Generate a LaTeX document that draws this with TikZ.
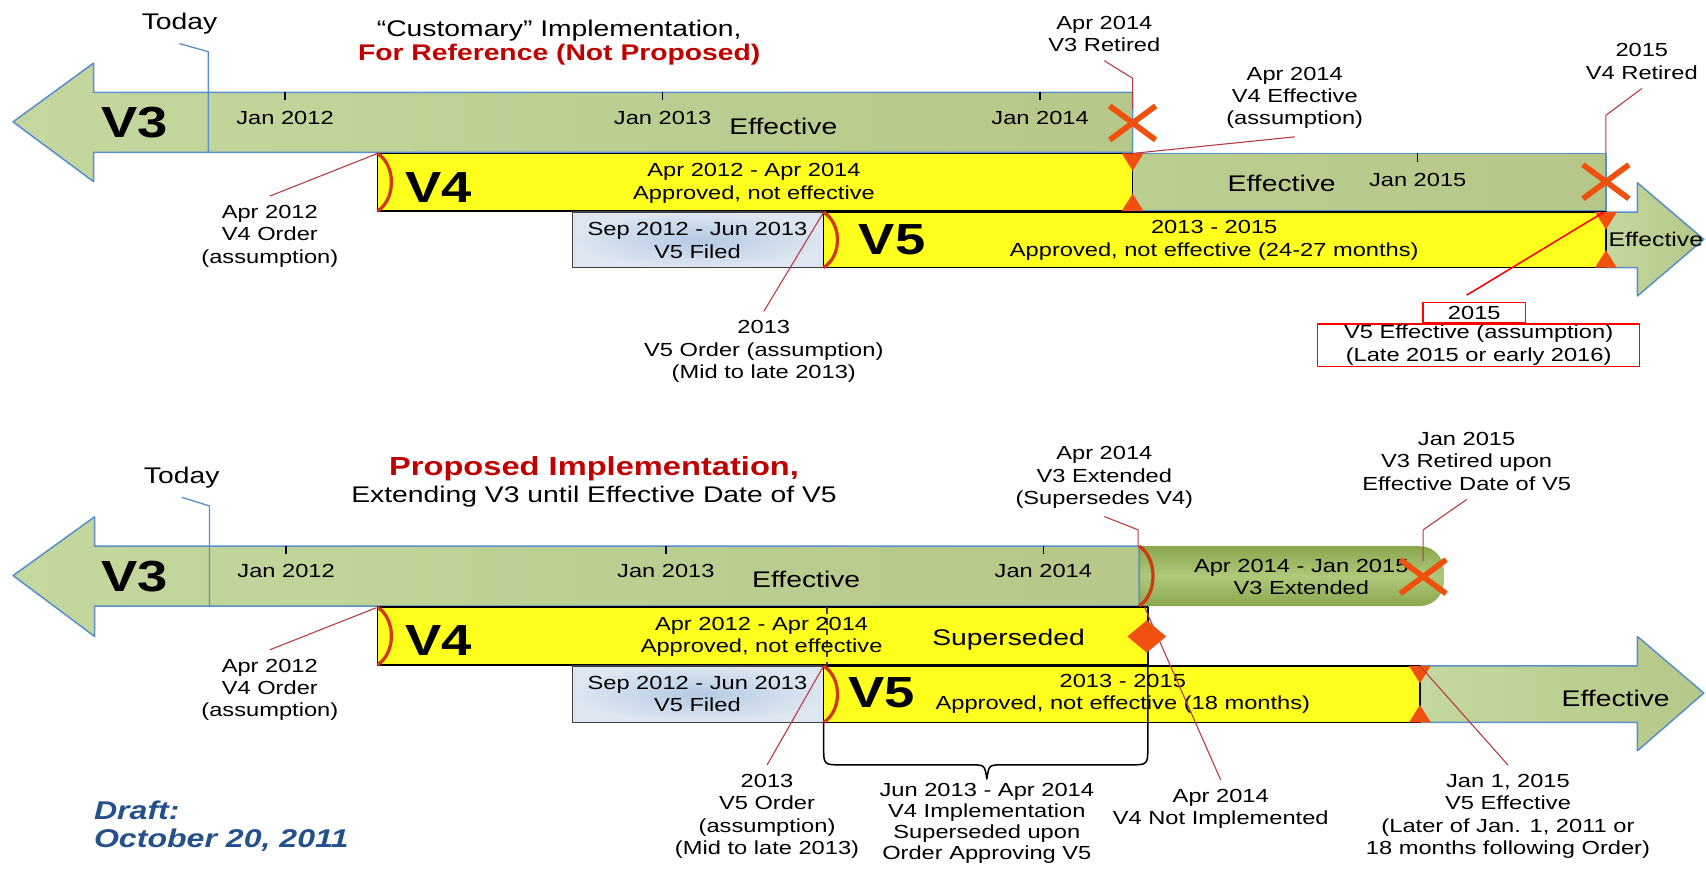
\documentclass[tikz,border=0pt]{standalone}
\usepackage{fontspec}
\setmainfont{Liberation Sans}[FakeStretch=1.25]
\usetikzlibrary{shapes.geometric,shapes.misc}
\definecolor{lgreen}{HTML}{C4D79E}
\definecolor{dgreen}{HTML}{B5C889}
\definecolor{xgreen}{HTML}{9BBB59}
\definecolor{xgreendk}{HTML}{8AA74E}
\definecolor{bordblue}{HTML}{5B8FC9}
\definecolor{baryel}{HTML}{FFFF1E}
\definecolor{filelt}{HTML}{DDE6F1}
\definecolor{filedk}{HTML}{B6CAE3}
\definecolor{mkred}{HTML}{F0500E}
\definecolor{arcred}{HTML}{D2380E}
\definecolor{leadred}{HTML}{B83A44}
\definecolor{ttlred}{HTML}{C00000}
\definecolor{draftblue}{HTML}{24508C}
\newcommand{\fsm}{\fontsize{8.7}{10.25}\selectfont}
\newcommand{\fmd}{\fontsize{10.4}{11}\selectfont}
\newcommand{\fvr}{\fontsize{20}{22}\selectfont\bfseries}
\begin{document}
\begin{tikzpicture}[x=0.5pt,y=-0.5pt,line join=round,font=\fsm,
    shaft/.style={draw=bordblue,line width=0.7pt,left color=lgreen,right color=dgreen},
    effzone/.style={draw=bordblue,line width=0.7pt,left color=dgreen!60!lgreen,right color=dgreen},
    extzone/.style={top color=xgreendk,bottom color=xgreendk,middle color=xgreen!80!white,rounded corners=11pt},
    ybar/.style={draw=black,line width=0.7pt,fill=baryel},
    filed/.style={draw=black!75,line width=0.7pt,inner color=filedk,outer color=filelt},
    ordarc/.style={arcred,line width=1.5pt},
    lead/.style={leadred,line width=0.5pt},
    todayln/.style={bordblue,line width=0.6pt},
    lbl/.style={align=center,inner sep=1pt,yshift=-1pt},
    lbl4/.style={lbl,yshift=-0.6pt},
    bartxt/.style={align=center,inner sep=0pt,yshift=-1pt},
    vname/.style={font=\fvr,inner sep=0pt},
    big/.style={font=\fmd,inner sep=0pt,yshift=-0.6pt},
    xmk/.style={cross out,draw=mkred,line width=2.6pt,minimum width=18.5pt,minimum height=13pt,inner sep=0pt},
    effbox/.style={draw=red,line width=0.7pt,align=center,inner sep=0pt}]
\useasboundingbox (0,0) rectangle (1568,798);
\def\triDn(#1,#2){\fill[mkred] (#1-10,#2) -- (#1+10,#2) -- (#1,#2+16) -- cycle;}
\def\triUp(#1,#2){\fill[mkred] (#1-10,#2) -- (#1+10,#2) -- (#1,#2-16) -- cycle;}

\path[shaft] (1041,85) -- (86,85) -- (86,58) -- (12,112) -- (86,167) -- (86,140) -- (1041,140) -- cycle;
\path[effzone] (1041,141) rectangle (1476,194);
\path[shaft] (1476,195) -- (1505,195) -- (1505,168) -- (1566,220) -- (1505,272) -- (1505,246) -- (1476,246) -- cycle;
\path[ybar] (347,141) rectangle (1041,194);
\path[filed] (526,195) rectangle (757,246);
\path[ybar] (757,195) rectangle (1476,246);
\draw[ordarc] (347,141) .. controls (364,152) and (364,183) .. (347,194);
\draw[ordarc] (757,195) .. controls (774,206) and (774,235) .. (757,246);
\foreach \tx/\tl in {262/Jan 2012,609/Jan 2013,956/Jan 2014}{
  \draw[line width=0.6pt] (\tx,85) -- (\tx,92);
  \node[bartxt] (ja\tx) at (\tx,106) {\tl};}
\draw[line width=0.6pt] (1303,141) -- (1303,149);
\node[bartxt] (ja1303) at (1303,163) {Jan 2015};
\triDn(1041,141) \triUp(1041,194) \triDn(1476,195) \triUp(1476,246)
\coordinate (now1) at (191.5,140);
\coordinate (o4a) at (347,141);
\coordinate (o5a) at (757,195);
\coordinate (e4a) at (1041,141);
\coordinate (r4a) at (1476,141);
\coordinate (e5a) at (1474,195);

\node[vname] (v3a) at (124,113) {V3};
\node[big] (eff3a) at (720,115) {Effective};
\node[vname] (v4a) at (403,172) {V4};
\node[bartxt] (v4ta) at (693,166.5) {Apr 2012 - Apr 2014\\Approved, not effective};
\node[big] (eff4a) at (1178,167) {Effective};
\node[bartxt] (fila) at (641,219) {Sep 2012 - Jun 2013\\V5 Filed};
\node[vname] (v5a) at (820,220) {V5};
\node[bartxt] (v5ta) at (1116,219) {2013 - 2015\\Approved, not effective (24-27 months)};
\node[big,font=\fontsize{9.1}{10}\selectfont,anchor=west] (eff5a) at (1478,219) {Effective};

\node[big] (t1a) at (514,27) {“Customary” Implementation,};
\node[big,font=\fmd\bfseries,text=ttlred] (t1b) at (514,49) {For Reference (Not Proposed)};
\node[lbl,font=\fmd] (today1) at (165,20) {Today};
\node[lbl] (ret3) at (1015,29) {Apr 2014\\V3 Retired};
\node[lbl] (eff4) at (1190,88) {Apr 2014\\V4 Effective\\(assumption)};
\node[lbl] (ret4) at (1509,54.5) {2015\\V4 Retired};
\node[lbl] (ord4) at (248,215) {Apr 2012\\V4 Order\\(assumption)};
\node[lbl] (ord5) at (702,321) {2013\\V5 Order (assumption)\\(Mid to late 2013)};
\node[effbox,minimum width=47pt,minimum height=9.5pt] (e5y) at (1355,287.5) {2015};
\node[effbox,minimum width=148pt,minimum height=19.5pt,anchor=north] (e5t) at (1359,297) {V5 Effective (assumption)\\(Late 2015 or early 2016)};

\draw[todayln] ([yshift=-3pt]today1.south) -- (191.5,47.5) -- (now1);
\draw[lead] ([yshift=-3pt]ret3.south) -- (1041,72) -- (1041,100);
\draw[lead] ([yshift=-2.5pt]eff4.south) -- (e4a);
\draw[lead] ([yshift=-3pt]ret4.south) -- (1476,106) -- (r4a);
\draw[lead] ([yshift=3pt]ord4.north) -- (o4a);
\draw[lead] ([yshift=3pt]ord5.north) -- (o5a);
\draw[red,line width=0.7pt] ([xshift=-3.5pt,yshift=3pt]e5y.north) -- (e5a);
\node[xmk] (x3a) at (1041,113) {};
\node[xmk] (x4a) at (1476,167) {};

\path[extzone] (1020,502) rectangle (1327,557);
\path[shaft] (1047,502) -- (87,502) -- (87,475) -- (12,529) -- (87,585) -- (87,557) -- (1047,557) -- cycle;
\path[shaft] (1305,612) -- (1505,612) -- (1505,585) -- (1566,637) -- (1505,690) -- (1505,664) -- (1305,664) -- cycle;
\path[ybar] (347,558) rectangle (1055,611);
\path[filed] (526,612) rectangle (757,664);
\path[ybar] (757,612) rectangle (1305,664);
\draw[ordarc] (347,558) .. controls (364,569) and (364,600) .. (347,611);
\draw[ordarc] (757,612) .. controls (774,623) and (774,653) .. (757,664);
\draw[ordarc] (1047,502) .. controls (1064,513) and (1064,546) .. (1047,557);
\foreach \tx/\tl in {263/Jan 2012,612/Jan 2013,959/Jan 2014}{
  \draw[line width=0.6pt] (\tx,502) -- (\tx,509);
  \node[bartxt] (jb\tx) at (\tx,523) {\tl};}
\draw[densely dashed,line width=0.6pt,black!75] (760,558) -- (760,611);
\draw[line width=0.7pt] (757,664) -- (757,686) .. controls (757,703) .. (774,703) -- (893,703)
  .. controls (905,703) .. (907,716) .. controls (909,703) .. (921,703) -- (1038,703)
  .. controls (1055,703) .. (1055,686) -- (1055,611);
\triDn(1305,612) \triUp(1305,664)
\coordinate (now2) at (192.6,557);
\coordinate (ex3) at (1046,502);
\coordinate (o4b) at (346,558.5);
\coordinate (o5b) at (757,612);
\coordinate (n4b) at (1052,558);
\coordinate (e5b) at (1305,612);

\node[vname] (v3b) at (124,530) {V3};
\node[big] (eff3b) at (741,531) {Effective};
\node[bartxt] (extb) at (1196,528.5) {Apr 2014 - Jan 2015\\V3 Extended};
\node[vname] (v4b) at (403,589) {V4};
\node[bartxt] (v4tb) at (700,583.5) {Apr 2012 - Apr 2014\\Approved, not effective};
\node[big] (supb) at (927,587) {Superseded};
\node[bartxt] (filb) at (641,636) {Sep 2012 - Jun 2013\\V5 Filed};
\node[vname] (v5b) at (810,637) {V5};
\node[bartxt] (v5tb) at (1032,636) {2013 - 2015\\Approved, not effective (18 months)};
\node[big] (eff5b) at (1485,641) {Effective};

\node[big,font=\fontsize{12}{13}\selectfont\bfseries,text=ttlred] (t2a) at (546,430) {Proposed Implementation,};
\node[big] (t2b) at (546,455) {Extending V3 until Effective Date of V5};
\node[lbl,font=\fmd] (today2) at (167,437) {Today};
\node[lbl] (ext3) at (1015,437) {Apr 2014\\V3 Extended\\(Supersedes V4)};
\node[lbl] (ret3b) at (1348,422) {Jan 2015\\V3 Retired upon\\Effective Date of V5};
\node[lbl] (ord4b) at (248,632) {Apr 2012\\V4 Order\\(assumption)};
\node[lbl4] (ord5b) at (705,747) {2013\\V5 Order\\(assumption)\\(Mid to late 2013)};
\node[lbl,font=\fontsize{8.7}{9.6}\selectfont] (brk) at (907,755) {Jun 2013 - Apr 2014\\V4 Implementation\\Superseded upon\\Order Approving V5};
\node[lbl] (nimp) at (1122,741.5) {Apr 2014\\V4 Not Implemented};
\node[lbl4] (eff5l) at (1386,747) {Jan 1, 2015\\V5 Effective\\(Later of Jan. 1, 2011 or\\18 months following Order)};
\node[anchor=west,align=left,text=draftblue,font=\fontsize{11.8}{12.8}\selectfont\bfseries\itshape,inner sep=0pt] (draft) at (86,759.5) {Draft:\\October 20, 2011};

\draw[todayln] ([yshift=-3pt]today2.south) -- (192.6,465) -- (now2);
\draw[lead] ([yshift=-2.5pt]ext3.south) -- (1046,487) -- (ex3);
\draw[lead] ([yshift=-3pt]ret3b.south) -- (1308,487) -- (1308,516);
\draw[lead] ([yshift=3pt]ord4b.north) -- (o4b);
\draw[lead] ([yshift=3pt]ord5b.north) -- (o5b);
\draw[lead] ([yshift=3pt]nimp.north) -- (n4b);
\draw[lead] ([yshift=3pt]eff5l.north) -- (e5b);
\node[diamond,fill=mkred,minimum width=18pt,minimum height=15pt,inner sep=0pt] (dm) at (1054,585) {};
\node[xmk] (x3b) at (1308,530) {};
\end{tikzpicture}
\end{document}
